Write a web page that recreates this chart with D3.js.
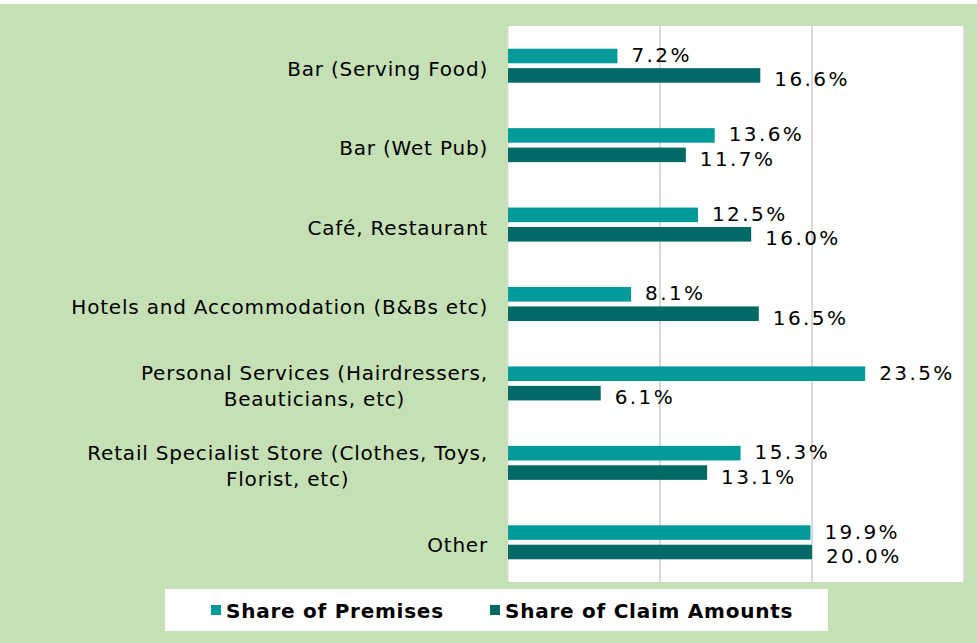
<!DOCTYPE html>
<html>
<head>
<meta charset="utf-8">
<script src="https://cdn.jsdelivr.net/npm/d3@7"></script>
<style>
  body { margin: 0; background: #fff; }
  text { font-family: "DejaVu Sans", Verdana, sans-serif; fill: #000; }
</style>
</head>
<body>
<script>
var categories = [
  ["Bar (Serving Food)"],
  ["Bar (Wet Pub)"],
  ["Café, Restaurant"],
  ["Hotels and Accommodation (B&Bs etc)"],
  ["Personal Services (Hairdressers,", "Beauticians, etc)"],
  ["Retail Specialist Store (Clothes, Toys,", "Florist, etc)"],
  ["Other"]
];
var premises = [7.2, 13.6, 12.5, 8.1, 23.5, 15.3, 19.9];
var claims = [16.6, 11.7, 16.0, 16.5, 6.1, 13.1, 20.0];
var seriesNames = ["Share of Premises", "Share of Claim Amounts"];
var seriesColors = ["#009b98", "#016966"];
var gridTicks = [10, 20, 30];

var totalWidth = 977;
var totalHeight = 643;
var plot = {left: 508, top: 26, right: 964, bottom: 582};

var svg = d3.select("body")
    .append("svg")
    .attr("width", totalWidth)
    .attr("height", totalHeight);

// fundo verde
svg.append("rect")
   .attr("x", 0).attr("y", 4)
   .attr("width", totalWidth).attr("height", totalHeight - 4)
   .attr("fill", "#c5e0b4");

svg.append("rect")
   .attr("x", plot.left).attr("y", plot.top)
   .attr("width", plot.right - plot.left).attr("height", plot.bottom - plot.top)
   .attr("fill", "#fff");

var x = d3.scaleLinear().domain([0, 30]).range([plot.left, plot.right]);
var y = d3.scaleBand().domain(d3.range(categories.length)).range([plot.top, plot.bottom]);
var inner = d3.scaleBand().domain([0, 1]).range([y.bandwidth()/2 - 17, y.bandwidth()/2 + 17]).paddingInner(0.25).paddingOuter(0);

svg.selectAll("line.grid")
   .data(gridTicks)
   .enter()
   .append("line")
   .attr("class", "grid")
   .attr("x1", d => x(d)).attr("x2", d => x(d))
   .attr("y1", plot.top).attr("y2", plot.bottom)
   .attr("stroke", "#d9d9d9")
   .attr("stroke-width", 2);

svg.append("line")
   .attr("x1", plot.left).attr("x2", plot.left)
   .attr("y1", plot.top).attr("y2", plot.bottom)
   .attr("stroke", "#d9d9d9");

var rows = categories.map((c, i) => ({i: i, vals: [premises[i], claims[i]]}));

var g = svg.selectAll("g.cat")
   .data(rows)
   .enter()
   .append("g")
   .attr("class", "cat")
   .attr("transform", d => "translate(0," + y(d.i) + ")");

g.selectAll("rect")
 .data(d => d.vals)
 .enter()
 .append("rect")
 .attr("x", x(0))
 .attr("y", (d, j) => inner(j))
 .attr("width", d => x(d) - x(0))
 .attr("height", inner.bandwidth())
 .attr("fill", (d, j) => seriesColors[j]);

g.selectAll("text.lbl")
 .data(d => d.vals)
 .enter()
 .append("text")
 .attr("class", "lbl")
 .attr("x", d => x(d) + 14)
 .attr("y", (d, j) => inner(j) + inner.bandwidth()/2 + (j == 0 ? -1 : 4))
 .attr("dy", "0.35em")
 .attr("font-size", 20)
 .attr("letter-spacing", 2.4)
 .text(d => d.toFixed(1) + "%");

// rótulos das categorias
var labelRight = 488;
categories.forEach(function(lines, i) {
  var cy = y(i) + y.bandwidth()/2 + 3;
  var n = lines.length;
  var grp = svg.append("g");
  var texts = lines.map(function(l, k) {
    return grp.append("text")
      .attr("font-size", 20)
      .attr("letter-spacing", 0.8)
      .attr("y", cy + (k - (n - 1)/2) * 26)
      .attr("dy", "0.35em")
      .attr("text-anchor", "middle")
      .text(l);
  });
  var maxW = d3.max(texts, t => t.node().getComputedTextLength());
  texts.forEach(t => t.attr("x", labelRight - maxW/2));
});

// legenda
svg.append("rect")
   .attr("x", 165).attr("y", 589)
   .attr("width", 663).attr("height", 42)
   .attr("fill", "#fff");

var legendX = [211, 490];
seriesNames.forEach(function(name, j) {
  svg.append("rect")
     .attr("x", legendX[j]).attr("y", 605)
     .attr("width", 10).attr("height", 10)
     .attr("fill", seriesColors[j]);
  svg.append("text")
     .attr("x", legendX[j] + 15).attr("y", 611)
     .attr("dy", "0.35em")
     .attr("font-size", 20)
     .attr("letter-spacing", 0.75)
     .attr("font-weight", "bold")
     .text(name);
});
</script>
</body>
</html>
